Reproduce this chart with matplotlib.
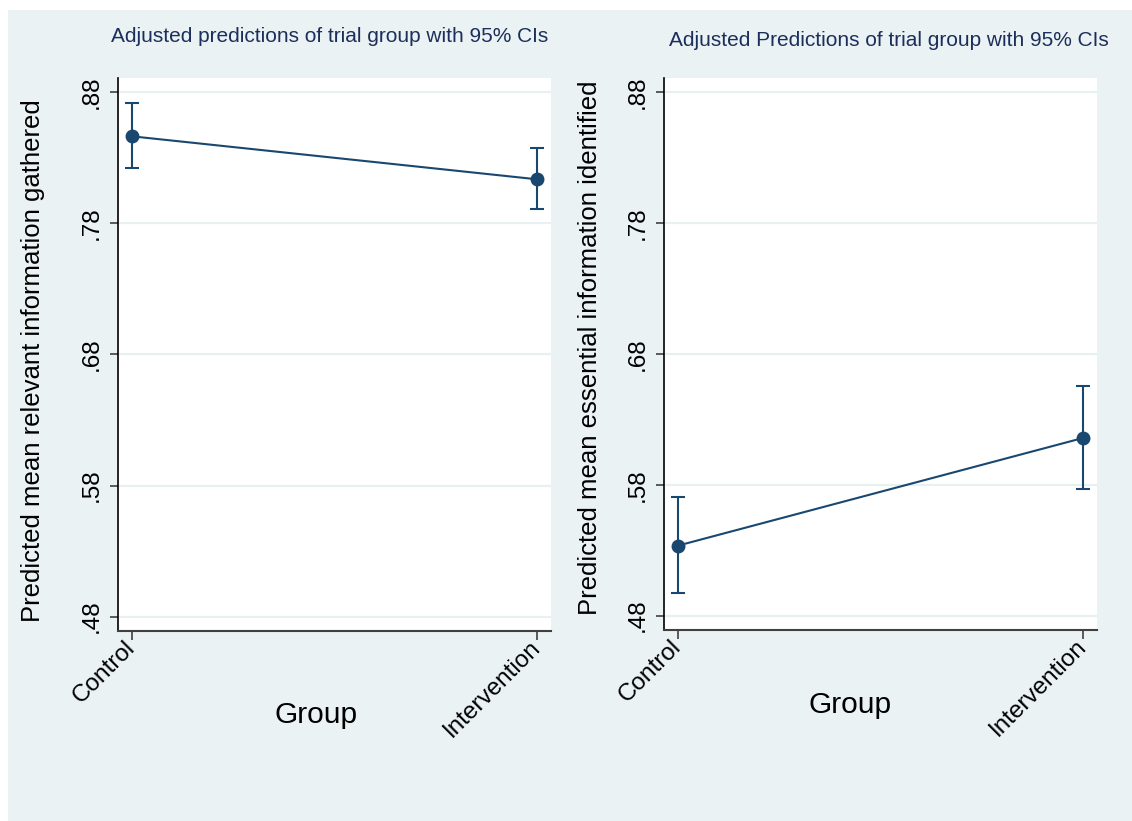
import matplotlib.pyplot as plt
from matplotlib.patches import Rectangle

plt.rcParams['font.family'] = ['Liberation Sans', 'DejaVu Sans']

groups = ["Control", "Intervention"]
yticks = [0.48, 0.58, 0.68, 0.78, 0.88]
ytick_labels = [".48", ".58", ".68", ".78", ".88"]

# predicted margins with 95% CI bounds
relevant_mean = [0.8465, 0.8137]
relevant_lo = [0.8221, 0.7909]
relevant_hi = [0.8716, 0.8373]

essential_mean = [0.5335, 0.6158]
essential_lo = [0.4970, 0.5770]
essential_hi = [0.5709, 0.6554]

W, H = 1132, 821
bg = "#eaf2f3"
navy = "#1a476f"

fig = plt.figure(figsize=(W / 100, H / 100), dpi=100)
fig.patch.set_facecolor("white")
fig.patches.append(Rectangle((8 / W, 0), 1 - 8 / W, (H - 10) / H,
                             transform=fig.transFigure, facecolor=bg,
                             edgecolor="none", zorder=-10))


def px_axes(left, top, right, bottom):
    ax = fig.add_axes([left / W, 1 - bottom / H, (right - left) / W, (bottom - top) / H])
    ax.set_zorder(1)
    return ax


def draw_panel(ax, means, lo, hi, title, title_xy, ylabel, ylabel_xy, xlabel_xy):
    x = list(range(len(groups)))
    err = [[m - l for m, l in zip(means, lo)], [h - m for m, h in zip(means, hi)]]
    ax.set_facecolor("white")
    ax.errorbar(x, means, yerr=err, fmt="none", ecolor=navy, elinewidth=1.5,
                capsize=5, capthick=1.5, zorder=3)
    ax.plot(x, means, color=navy, lw=1.5, marker="o", markersize=9, zorder=4)

    ax.set_xlim(-0.0345, 1.0345)
    ax.set_ylim(0.469, 0.891)
    ax.set_yticks(yticks)
    ax.set_yticklabels(ytick_labels, rotation=90, va="center", fontsize=17.5)
    ax.set_xticks(x)
    ax.set_xticklabels(groups, rotation=45, ha="right", va="center",
                       rotation_mode="anchor", fontsize=17.5)
    ax.tick_params(axis="y", direction="out", length=6, width=1.2,
                   color="#404040", pad=5)
    ax.tick_params(axis="x", direction="out", length=6.5, width=1.2,
                   color="#404040", pad=3)
    ax.grid(axis="y", color="#e8f0f2", lw=1.6)
    ax.set_axisbelow(True)

    for side in ("top", "right"):
        ax.spines[side].set_visible(False)
    ax.spines["left"].set_color("black")
    ax.spines["bottom"].set_color("#404040")
    ax.spines["left"].set_linewidth(1.2)
    ax.spines["bottom"].set_linewidth(1.5)

    fig.text(title_xy[0] / W, 1 - title_xy[1] / H, title, ha="center", va="center",
             fontsize=15, color="#1c2f5c")
    fig.text(ylabel_xy[0] / W, 1 - ylabel_xy[1] / H, ylabel, rotation=90,
             ha="center", va="center", fontsize=18.5)
    fig.text(xlabel_xy[0] / W, 1 - xlabel_xy[1] / H, "Group", ha="center",
             va="center", fontsize=21.5)


ax1 = px_axes(118, 78, 551, 631)
draw_panel(ax1, relevant_mean, relevant_lo, relevant_hi,
           "Adjusted predictions of trial group with 95% CIs", (330, 37),
           "Predicted mean relevant information gathered", (33, 361), (316, 715))

ax2 = px_axes(664, 78, 1097, 630)
draw_panel(ax2, essential_mean, essential_lo, essential_hi,
           "Adjusted Predictions of trial group with 95% CIs", (889, 40),
           "Predicted mean essential information identified", (590, 348), (850, 705))

fig.savefig("out.png", dpi=100, facecolor=fig.get_facecolor())
